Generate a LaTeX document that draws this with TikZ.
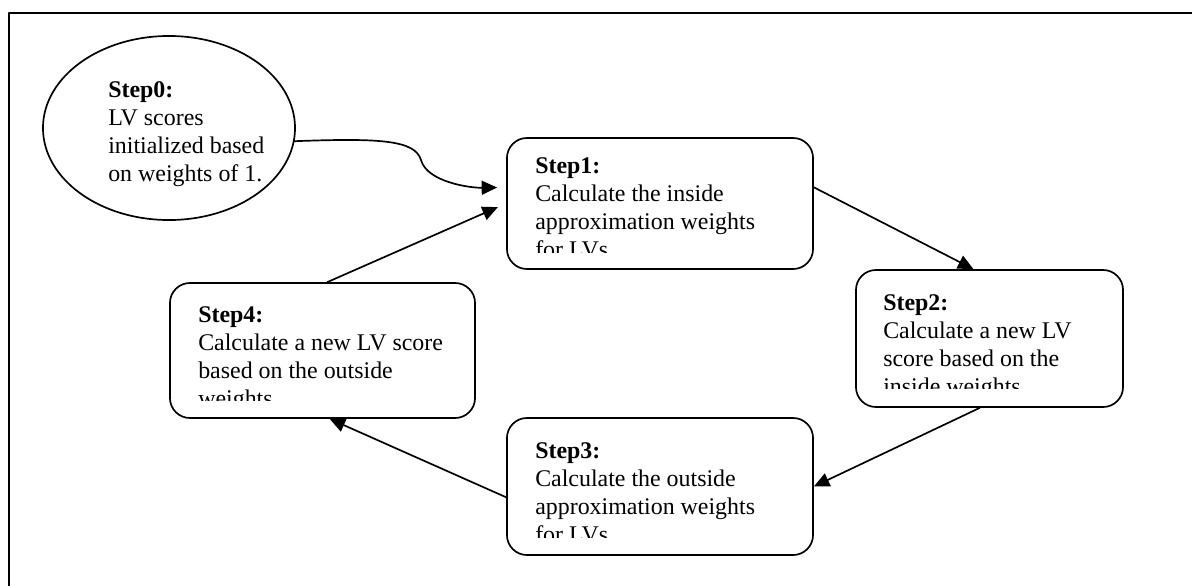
\documentclass[tikz,border=0pt]{standalone}
\usepackage{fontspec}
\setmainfont{Liberation Serif}
\usetikzlibrary{positioning,arrows.meta,shapes.geometric}

\begin{document}
\begin{tikzpicture}[x=0.025cm, y=-0.025cm, line cap=round, line join=round]
	\useasboundingbox (0,0) rectangle (1192,586);
	
	% ---- styles ----
	\tikzset{stepbox/.style={draw, line width=1.2pt, rounded corners=0.5cm, inner sep=0pt},
		steptext/.style={anchor=north west, inner sep=0pt, align=left,
			font=\fontsize{17pt}{19.9pt}\selectfont},
		flow/.style={-{Triangle[length=11pt, width=10pt]}, line width=1.2pt}}
	
	% ---- khung ngoài (chỉ thấy cạnh trên và cạnh trái) ----
	\draw[line width=1.5pt] (1192,13) -- (9,13) -- (9,586);
	
	% ---- các khối (vẽ trước, chữ đặt sau) ----
	\node[draw, ellipse, line width=1.2pt, minimum width=6.3cm, minimum height=4.6cm] (s0) at (169,128) {};
	\node[stepbox, minimum width=7.65cm,  minimum height=3.275cm] (s1) at (660,203.5) {};
	\node[stepbox, minimum width=6.675cm, minimum height=3.425cm] (s2) at (989.5,338.5) {};
	\node[stepbox, minimum width=7.65cm,  minimum height=3.425cm] (s3) at (660,486.5) {};
	\node[stepbox, minimum width=7.625cm, minimum height=3.375cm] (s4) at (322.5,350.5) {};
	
	% ---- chữ trong các khối (dòng cuối bị cắt như ảnh) ----
	\node[steptext] (t0) at (108,81) {\textbf{Step0:}\\LV scores\\initialized based\\on weights of 1.};
	
	\begin{scope}
		\clip (507,138) rectangle (813,252);
		\node[steptext] (t1) at (535,157) {\textbf{Step1:}\\Calculate the inside\\approximation weights\\for LVs.};
	\end{scope}
	
	\begin{scope}
		\clip (856,270) rectangle (1123,388);
		\node[steptext] (t2) at (883,294) {\textbf{Step2:}\\Calculate a new LV\\score based on the\\inside weights.};
	\end{scope}
	
	\begin{scope}
		\clip (507,418) rectangle (813,537);
		\node[steptext] (t3) at (535,442) {\textbf{Step3:}\\Calculate the outside\\approximation weights\\for LVs.};
	\end{scope}
	
	\begin{scope}
		\clip (170,283) rectangle (475,400);
		\node[steptext] (t4) at (198,306) {\textbf{Step4:}\\Calculate a new LV score\\based on the outside\\weights.};
	\end{scope}
	
	% ---- các mũi tên ----
	\draw[flow, shorten >=2.25mm] (s0.-6) .. controls (380,138) and (415,140) .. (421,160)
	.. controls (427,182) and (470,188) .. (s1.174);
	\draw[flow] (s1.6) -- (s2.103);
	\draw[flow] (s2.-98) -- (s3.east);
	\draw[flow] (s3.184) -- (s4.-84);
	\draw[flow, shorten >=2.25mm] (s4.86) -- (s1.west);
\end{tikzpicture}
\end{document}
